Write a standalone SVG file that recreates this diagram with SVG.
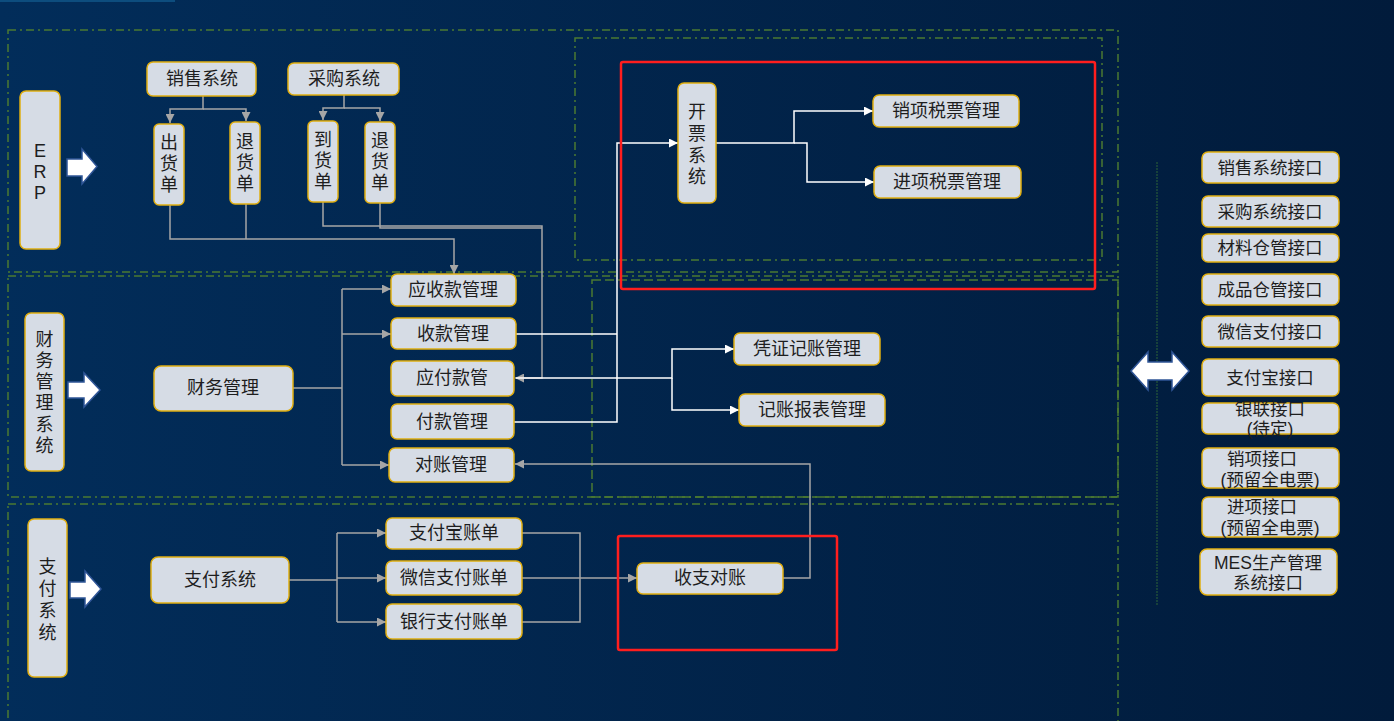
<svg xmlns="http://www.w3.org/2000/svg" width="1394" height="721" viewBox="0 0 1394 721">
<defs>
<linearGradient id="bg" x1="0" y1="0" x2="1" y2="0">
<stop offset="0" stop-color="#022d5a"/>
<stop offset="1" stop-color="#011b3b"/>
</linearGradient>
<marker id="ag" viewBox="0 0 10 10" refX="10" refY="5" markerWidth="10" markerHeight="9" markerUnits="userSpaceOnUse" orient="auto">
<path d="M0,0 L10,5 L0,10 Z" fill="#a6a6a6"/>
</marker>
<marker id="aw" viewBox="0 0 10 10" refX="10" refY="5" markerWidth="10" markerHeight="9" markerUnits="userSpaceOnUse" orient="auto">
<path d="M0,0 L10,5 L0,10 Z" fill="#ffffff"/>
</marker>
</defs>
<style>
.n{fill:#d6dce5;stroke:#e0ae10;stroke-width:1.5}
.t{font-family:"Liberation Sans","Noto Sans CJK SC",sans-serif;font-size:18px;fill:#1e1e1e;text-anchor:middle}
.ti{font-family:"Liberation Sans","Noto Sans CJK SC",sans-serif;font-size:17.5px;fill:#1e1e1e;text-anchor:middle}
.dd{fill:none;stroke:#4b7a32;stroke-width:1.5;stroke-dasharray:8 4 2 4}
.ds{fill:none;stroke:#4b7a32;stroke-width:1.5;stroke-dasharray:9 4}
.g{fill:none;stroke:#a6a6a6;stroke-width:1.5}
.w{fill:none;stroke:#ffffff;stroke-width:1.5}
.red{fill:none;stroke:#ff1e1e;stroke-width:2.5}
.ba{fill:#ffffff;stroke:#2f5597;stroke-width:1.5}
</style>
<rect x="0" y="0" width="1394" height="721" fill="url(#bg)"/>
<rect x="0" y="0" width="175" height="2" fill="#0d4d7e"/>

<g id="frames">
<rect class="dd" x="8" y="30" width="1110" height="242"/>
<rect class="dd" x="575" y="38" width="527" height="222"/>
<rect class="dd" x="8" y="276" width="1110" height="221"/>
<rect class="ds" x="592" y="280" width="526" height="217"/>
<rect class="dd" x="8" y="504" width="1110" height="230"/>
<line x1="1157" y1="162" x2="1157" y2="606" stroke="#1f4d3a" stroke-width="1.5" stroke-dasharray="2 1"/>
</g>

<g id="connectors">
<path class="g" d="M203,96 V109 H170 V123" marker-end="url(#ag)"/>
<path class="g" d="M203,109 H246 V121" marker-end="url(#ag)"/>
<path class="g" d="M344,95 V108 H323 V120" marker-end="url(#ag)"/>
<path class="g" d="M344,108 H380 V121" marker-end="url(#ag)"/>
<path class="g" d="M170,205 V239 H454 V274" marker-end="url(#ag)"/>
<path class="g" d="M246,204 V239"/>
<path class="g" d="M323,202 V226 H542 V378 H515" marker-end="url(#ag)"/>
<path class="g" d="M380,203 V228 H542"/>
<path class="g" d="M293,388 H342"/>
<path class="g" d="M342,289 V465"/>
<path class="g" d="M342,289 H391" marker-end="url(#ag)"/>
<path class="g" d="M342,334 H391" marker-end="url(#ag)"/>
<path class="g" d="M342,465 H389" marker-end="url(#ag)"/>
<path class="g" d="M783,578 H810 V464 H515" marker-end="url(#ag)"/>
<path class="g" d="M289,580 H337"/>
<path class="g" d="M337,533 V622"/>
<path class="g" d="M337,533 H386" marker-end="url(#ag)"/>
<path class="g" d="M337,578 H386" marker-end="url(#ag)"/>
<path class="g" d="M337,622 H386" marker-end="url(#ag)"/>
<path class="g" d="M522,533 H580 V622 H522"/>
<path class="g" d="M522,578 H637" marker-end="url(#ag)"/>
<path class="w" d="M516,334 H617"/>
<path class="w" d="M514,422 H617 V143 H678" marker-end="url(#aw)"/>
<path class="w" d="M716,143 H794 V111 H873" marker-end="url(#aw)"/>
<path class="w" d="M794,143 H807 V182 H874" marker-end="url(#aw)"/>
<path class="w" d="M516,378 H672 V349 H734" marker-end="url(#aw)"/>
<path class="w" d="M672,378 V410 H739" marker-end="url(#aw)"/>
</g>

<g id="arrows">
<polygon class="ba" points="67,159 82,159 82,149 97,166.5 82,184 82,176 67,176"/>
<polygon class="ba" points="68,382 84,382 84,373 100,390 84,407 84,398 68,398"/>
<polygon class="ba" points="70,582 85,582 85,571 101,589 85,607 85,598 70,598"/>
<polygon class="ba" points="1131,371 1148,352 1148,362 1172,362 1172,352 1189,371 1172,390 1172,380 1148,380 1148,390"/>
</g>

<g id="node-erp"><rect class="n" x="20" y="91" width="40" height="158" rx="6"/>
<text class="t" x="40" y="157">E</text><text class="t" x="40" y="178">R</text><text class="t" x="40" y="199">P</text></g>
<g id="node-sales"><rect class="n" x="147" y="62" width="109" height="34" rx="6"/><text class="t" x="202" y="85">销售系统</text></g>
<g id="node-purchase"><rect class="n" x="288" y="63" width="111" height="32" rx="6"/><text class="t" x="344" y="85">采购系统</text></g>
<g id="node-ship"><rect class="n" x="154" y="124" width="30" height="81" rx="5"/>
<text class="t" x="169" y="149">出</text><text class="t" x="169" y="170">货</text><text class="t" x="169" y="191">单</text></g>
<g id="node-sreturn"><rect class="n" x="230" y="122" width="30" height="82" rx="5"/>
<text class="t" x="245" y="148">退</text><text class="t" x="245" y="169">货</text><text class="t" x="245" y="190">单</text></g>
<g id="node-arrive"><rect class="n" x="308" y="121" width="30" height="81" rx="5"/>
<text class="t" x="323" y="146">到</text><text class="t" x="323" y="167">货</text><text class="t" x="323" y="188">单</text></g>
<g id="node-preturn"><rect class="n" x="365" y="122" width="30" height="81" rx="5"/>
<text class="t" x="380" y="147">退</text><text class="t" x="380" y="168">货</text><text class="t" x="380" y="189">单</text></g>

<g id="node-invoice"><rect class="n" x="678" y="83" width="38" height="120" rx="6"/>
<text class="t" x="697" y="118">开</text><text class="t" x="697" y="140">票</text><text class="t" x="697" y="162">系</text><text class="t" x="697" y="183">统</text></g>
<g id="node-outtax"><rect class="n" x="873" y="95" width="146" height="32" rx="6"/><text class="t" x="946" y="117">销项税票管理</text></g>
<g id="node-intax"><rect class="n" x="874" y="166" width="147" height="32" rx="6"/><text class="t" x="947" y="188">进项税票管理</text></g>

<g id="node-fin-sys"><rect class="n" x="25" y="313" width="39" height="158" rx="6"/>
<text class="t" x="44.5" y="346">财</text><text class="t" x="44.5" y="367">务</text><text class="t" x="44.5" y="388">管</text><text class="t" x="44.5" y="409">理</text><text class="t" x="44.5" y="431">系</text><text class="t" x="44.5" y="452">统</text></g>
<g id="node-fin"><rect class="n" x="154" y="366" width="139" height="45" rx="7"/><text class="t" x="223" y="394">财务管理</text></g>
<g id="node-ar"><rect class="n" x="391" y="274" width="125" height="32" rx="6"/><text class="t" x="453" y="296">应收款管理</text></g>
<g id="node-recv"><rect class="n" x="391" y="318" width="125" height="31" rx="6"/><text class="t" x="453" y="340">收款管理</text></g>
<g id="node-ap"><rect class="n" x="391" y="361" width="123" height="35" rx="6"/><text class="t" x="452" y="384">应付款管</text></g>
<g id="node-pay"><rect class="n" x="391" y="404" width="123" height="35" rx="6"/><text class="t" x="452" y="428">付款管理</text></g>
<g id="node-recon"><rect class="n" x="389" y="448" width="125" height="34" rx="6"/><text class="t" x="451" y="471">对账管理</text></g>
<g id="node-voucher"><rect class="n" x="734" y="333" width="146" height="32" rx="6"/><text class="t" x="807" y="355">凭证记账管理</text></g>
<g id="node-report"><rect class="n" x="739" y="394" width="146" height="32" rx="6"/><text class="t" x="812" y="416">记账报表管理</text></g>

<g id="node-pay-sys"><rect class="n" x="28" y="519" width="39" height="158" rx="6"/>
<text class="t" x="47.5" y="573">支</text><text class="t" x="47.5" y="595">付</text><text class="t" x="47.5" y="617">系</text><text class="t" x="47.5" y="639">统</text></g>
<g id="node-paysys"><rect class="n" x="151" y="557" width="138" height="46" rx="7"/><text class="t" x="220" y="586">支付系统</text></g>
<g id="node-alibill"><rect class="n" x="386" y="518" width="136" height="31" rx="6"/><text class="t" x="454" y="539">支付宝账单</text></g>
<g id="node-wxbill"><rect class="n" x="386" y="561" width="136" height="34" rx="6"/><text class="t" x="454" y="584">微信支付账单</text></g>
<g id="node-bankbill"><rect class="n" x="386" y="604" width="136" height="35" rx="6"/><text class="t" x="454" y="628">银行支付账单</text></g>
<g id="node-check"><rect class="n" x="637" y="563" width="146" height="31" rx="6"/><text class="t" x="710" y="584">收支对账</text></g>

<g id="red-highlights">
<rect class="red" x="621" y="62" width="474" height="227" rx="2"/>
<rect class="red" x="618" y="536" width="219" height="114" rx="2"/>
</g>

<g id="node-if-sales"><rect class="n" x="1202" y="152" width="137" height="31" rx="6"/><text class="ti" x="1270" y="174">销售系统接口</text></g>
<g id="node-if-purchase"><rect class="n" x="1202" y="196" width="137" height="31" rx="6"/><text class="ti" x="1270" y="218">采购系统接口</text></g>
<g id="node-if-mat"><rect class="n" x="1202" y="234" width="137" height="28" rx="6"/><text class="ti" x="1270" y="254">材料仓管接口</text></g>
<g id="node-if-prod"><rect class="n" x="1202" y="274" width="137" height="31" rx="6"/><text class="ti" x="1270" y="296">成品仓管接口</text></g>
<g id="node-if-wx"><rect class="n" x="1202" y="316" width="137" height="31" rx="6"/><text class="ti" x="1270" y="338">微信支付接口</text></g>
<g id="node-if-ali"><rect class="n" x="1202" y="359" width="137" height="37" rx="6"/><text class="ti" x="1270" y="384">支付宝接口</text></g>
<g id="node-if-union"><rect class="n" x="1202" y="403" width="137" height="31" rx="6"/><text class="ti" x="1270" y="415">银联接口</text><text class="ti" x="1270" y="435">(待定)</text></g>
<g id="node-if-out"><rect class="n" x="1202" y="448" width="137" height="40" rx="6"/><text class="ti" x="1262" y="465">销项接口</text><text class="ti" x="1270" y="486">(预留全电票)</text></g>
<g id="node-if-in"><rect class="n" x="1202" y="497" width="137" height="40" rx="6"/><text class="ti" x="1262" y="513">进项接口</text><text class="ti" x="1270" y="534">(预留全电票)</text></g>
<g id="node-if-mes"><rect class="n" x="1200" y="549" width="137" height="46" rx="7"/><text class="ti" x="1268" y="569">MES生产管理</text><text class="ti" x="1268" y="589">系统接口</text></g>
</svg>
